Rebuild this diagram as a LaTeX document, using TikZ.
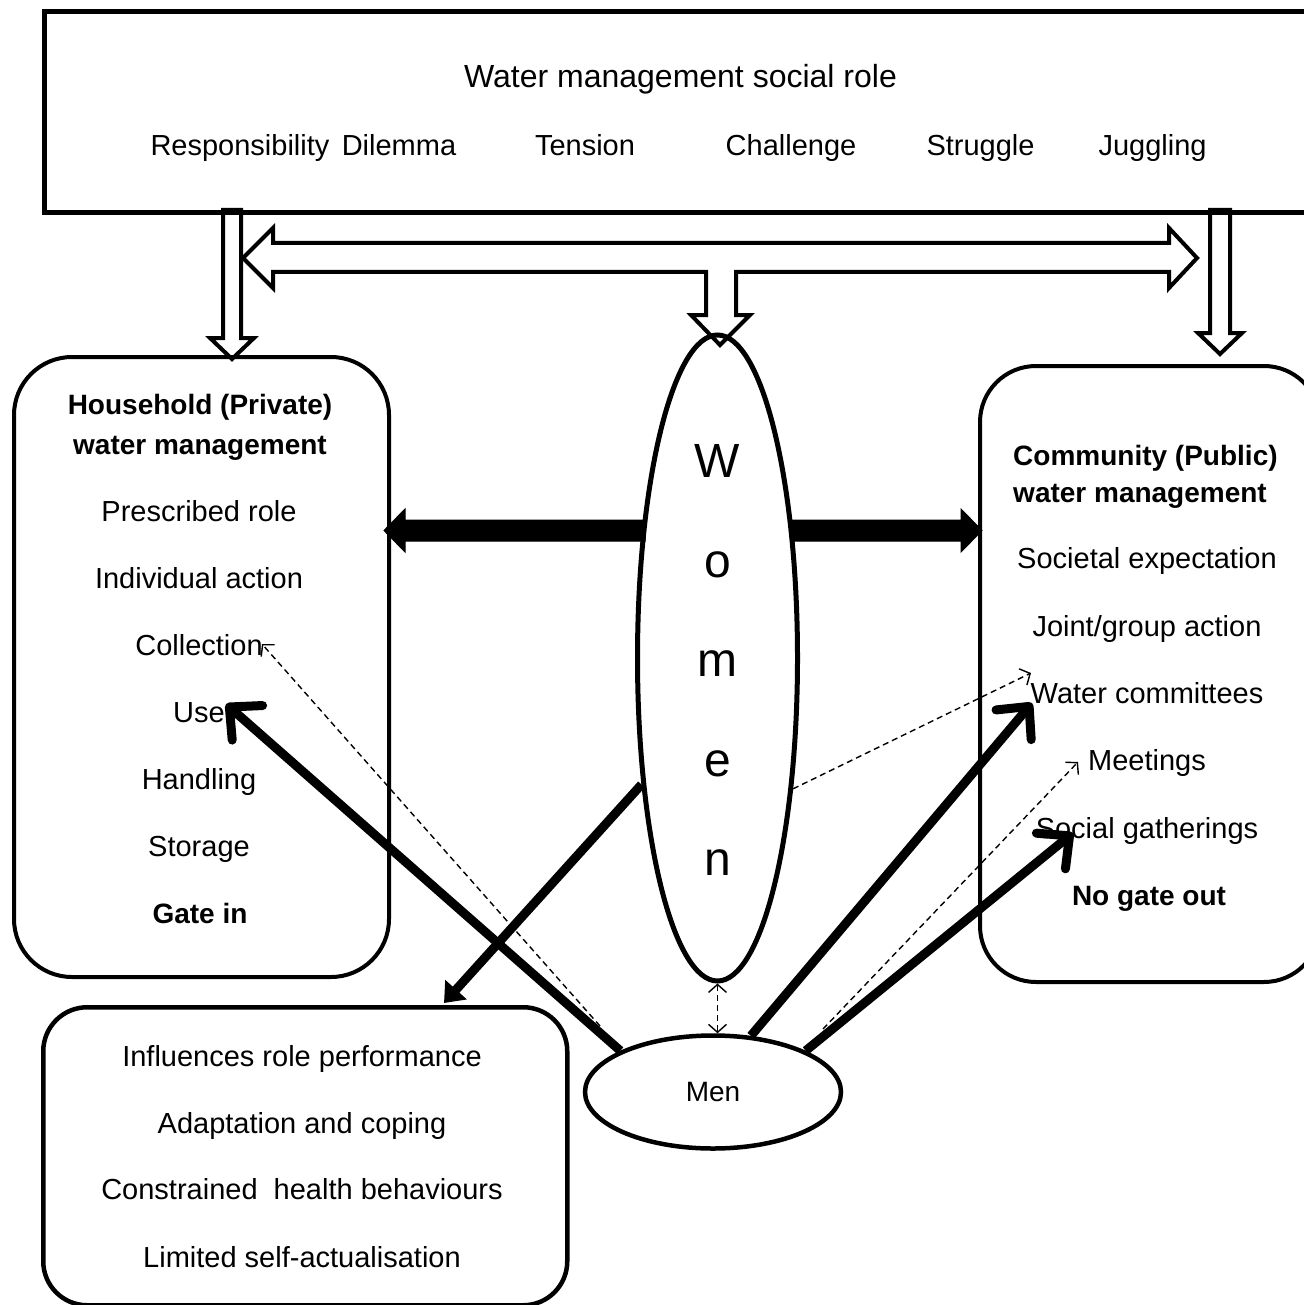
\documentclass[tikz,border=0pt]{standalone}
\usepackage{fontspec}
\setmainfont{Liberation Sans}
\usetikzlibrary{arrows.meta,shapes.geometric}
\begin{document}
\begin{tikzpicture}[x=1pt,y=-1pt,
  txt/.style={anchor=base, inner sep=0pt, font=\fontsize{29}{34}\selectfont},
  btxt/.style={anchor=base, inner sep=0pt, font=\fontsize{28}{32}\selectfont\bfseries},
  wtxt/.style={anchor=base, inner sep=0pt, font=\fontsize{48}{56}\selectfont},
  rbox/.style={draw, line width=4pt, anchor=north west, inner sep=0pt},
  hollow/.style={draw, line width=4pt, fill=white, line join=miter},
  solidarr/.style={draw, fill=black, line width=1pt},
  thickarr/.style={line width=9pt, -{Straight Barb[length=24pt,width=46pt,round]}},
  dasharr/.style={line width=1.4pt, dash pattern=on 6pt off 4pt, -{Straight Barb[length=8pt,width=18pt]}},
  dashdbl/.style={line width=1.4pt, dash pattern=on 6pt off 4pt, {Straight Barb[length=8pt,width=18pt]}-{Straight Barb[length=8pt,width=18pt]}},
]
\useasboundingbox (0,0) rectangle (1303,1305);

% hollow block arrows from the top box
\draw[hollow] (223,210) -- (223,338) -- (210,338) -- (232,359) -- (254,338) -- (241,338) -- (241,210) -- cycle;
\draw[hollow] (1210,210) -- (1210,333) -- (1198,333) -- (1220,354) -- (1242,333) -- (1230,333) -- (1230,210) -- cycle;
\draw[hollow] (243,258) -- (273,228) -- (273,243) -- (1169,243) -- (1169,228) -- (1197,258) -- (1169,288) -- (1169,272)
  -- (736,272) -- (736,315) -- (750,315) -- (720,345) -- (691,315) -- (706,315) -- (706,272)
  -- (273,272) -- (273,288) -- cycle;

% solid black block arrows from Women
\draw[solidarr] (645,520) -- (405,520) -- (405,509) -- (384,530.5) -- (405,552) -- (405,541) -- (645,541) -- cycle;
\draw[solidarr] (791,520) -- (961,520) -- (961,509) -- (982,530.5) -- (961,552) -- (961,541) -- (791,541) -- cycle;

% boxes
\node[rbox, line width=5pt, minimum width=1290pt, minimum height=201pt] (topbox) at (42,9.5) {};
\node[rbox, rounded corners=58pt, minimum width=375pt, minimum height=620pt] (house) at (12,355) {};
\node[rbox, rounded corners=56pt, minimum width=340pt, minimum height=616pt] (comm) at (978,364) {};
\node[rbox, line width=4.5pt, rounded corners=44pt, minimum width=524pt, minimum height=298pt] (effects) at (41,1005) {};

% ellipses
\node[draw, ellipse, line width=5pt, minimum width=160pt, minimum height=646pt, inner sep=0pt] (women) at (717.5,658) {};
\node[draw, ellipse, line width=4.5pt, minimum width=256pt, minimum height=113pt, inner sep=0pt,
      font=\fontsize{28}{32}\selectfont] (men) at (713,1092) {Men};

% top box texts
\node[txt, font=\fontsize{32}{37}\selectfont] (title) at (680.5,88) {Water management social role};
\node[txt] (t1) at (240,156) {Responsibility};
\node[txt] (t2) at (399,156) {Dilemma};
\node[txt] (t3) at (585,156) {Tension};
\node[txt] (t4) at (791,156) {Challenge};
\node[txt] (t5) at (980.5,156) {Struggle};
\node[txt] (t6) at (1152.6,156) {Juggling};

% household box texts
\node[btxt] (h1) at (200,414) {Household (Private)};
\node[btxt] (h2) at (200,454) {water management};
\node[txt] (h3) at (199,521) {Prescribed role};
\node[txt] (h4) at (199,588) {Individual action};
\node[txt] (h5) at (199,655) {Collection};
\node[txt] (h6) at (199,722) {Use};
\node[txt] (h7) at (199,789) {Handling};
\node[txt] (h8) at (199,856) {Storage};
\node[btxt] (h9) at (200,923) {Gate in};

% community box texts
\node[btxt, anchor=base west] (c1) at (1013,465) {Community (Public)};
\node[btxt, anchor=base west] (c2) at (1013,502) {water management};
\node[txt] (c3) at (1147,568) {Societal expectation};
\node[txt] (c4) at (1147,636) {Joint/group action};
\node[txt] (c5) at (1147,703) {Water committees};
\node[txt] (c6) at (1147,770) {Meetings};
\node[txt] (c7) at (1147,838) {Social gatherings};
\node[btxt] (c8) at (1149,905) {No gate out};

% effects box texts
\node[txt] (e1) at (302,1066) {Influences role performance};
\node[txt] (e2) at (302,1133) {Adaptation and coping};
\node[txt] (e3) at (302,1199) {Constrained\ \ health behaviours};
\node[txt] (e4) at (302,1267) {Limited self-actualisation};

% Women letters
\node[wtxt] (w1) at (717.5,477) {W};
\node[wtxt] (w2) at (717.5,577) {o};
\node[wtxt] (w3) at (717.5,676) {m};
\node[wtxt] (w4) at (717.5,776) {e};
\node[wtxt] (w5) at (717.5,875) {n};

% connectors
\coordinate (tipUse) at (226,704);
\coordinate (tipWC) at (1032,703);
\coordinate (tipSG) at (1073,833);
\coordinate (tipBB) at (444,1003);
\coordinate (tipCol) at (262,644);
\coordinate (tipMeet) at (1078,762);
\coordinate (tipWC2) at (1031,673);
\coordinate (menNW) at (600,1026);
\coordinate (menNE) at (823,1029);

\draw[thickarr] (men.156) -- (tipUse);
\draw[thickarr] (men.56) -- (tipWC);
\draw[thickarr] (men.24) -- (tipSG);
\draw[line width=9pt, -{Triangle[length=18pt,width=28pt]}] (women.239) -- (tipBB);

\draw[dasharr] (menNW) -- (tipCol);
\draw[dasharr] (menNE) -- (tipMeet);
\draw[dasharr] (women.-60) -- (tipWC2);
\draw[dashdbl] (women.south) -- (women.south |- men.north);
\end{tikzpicture}
\end{document}
